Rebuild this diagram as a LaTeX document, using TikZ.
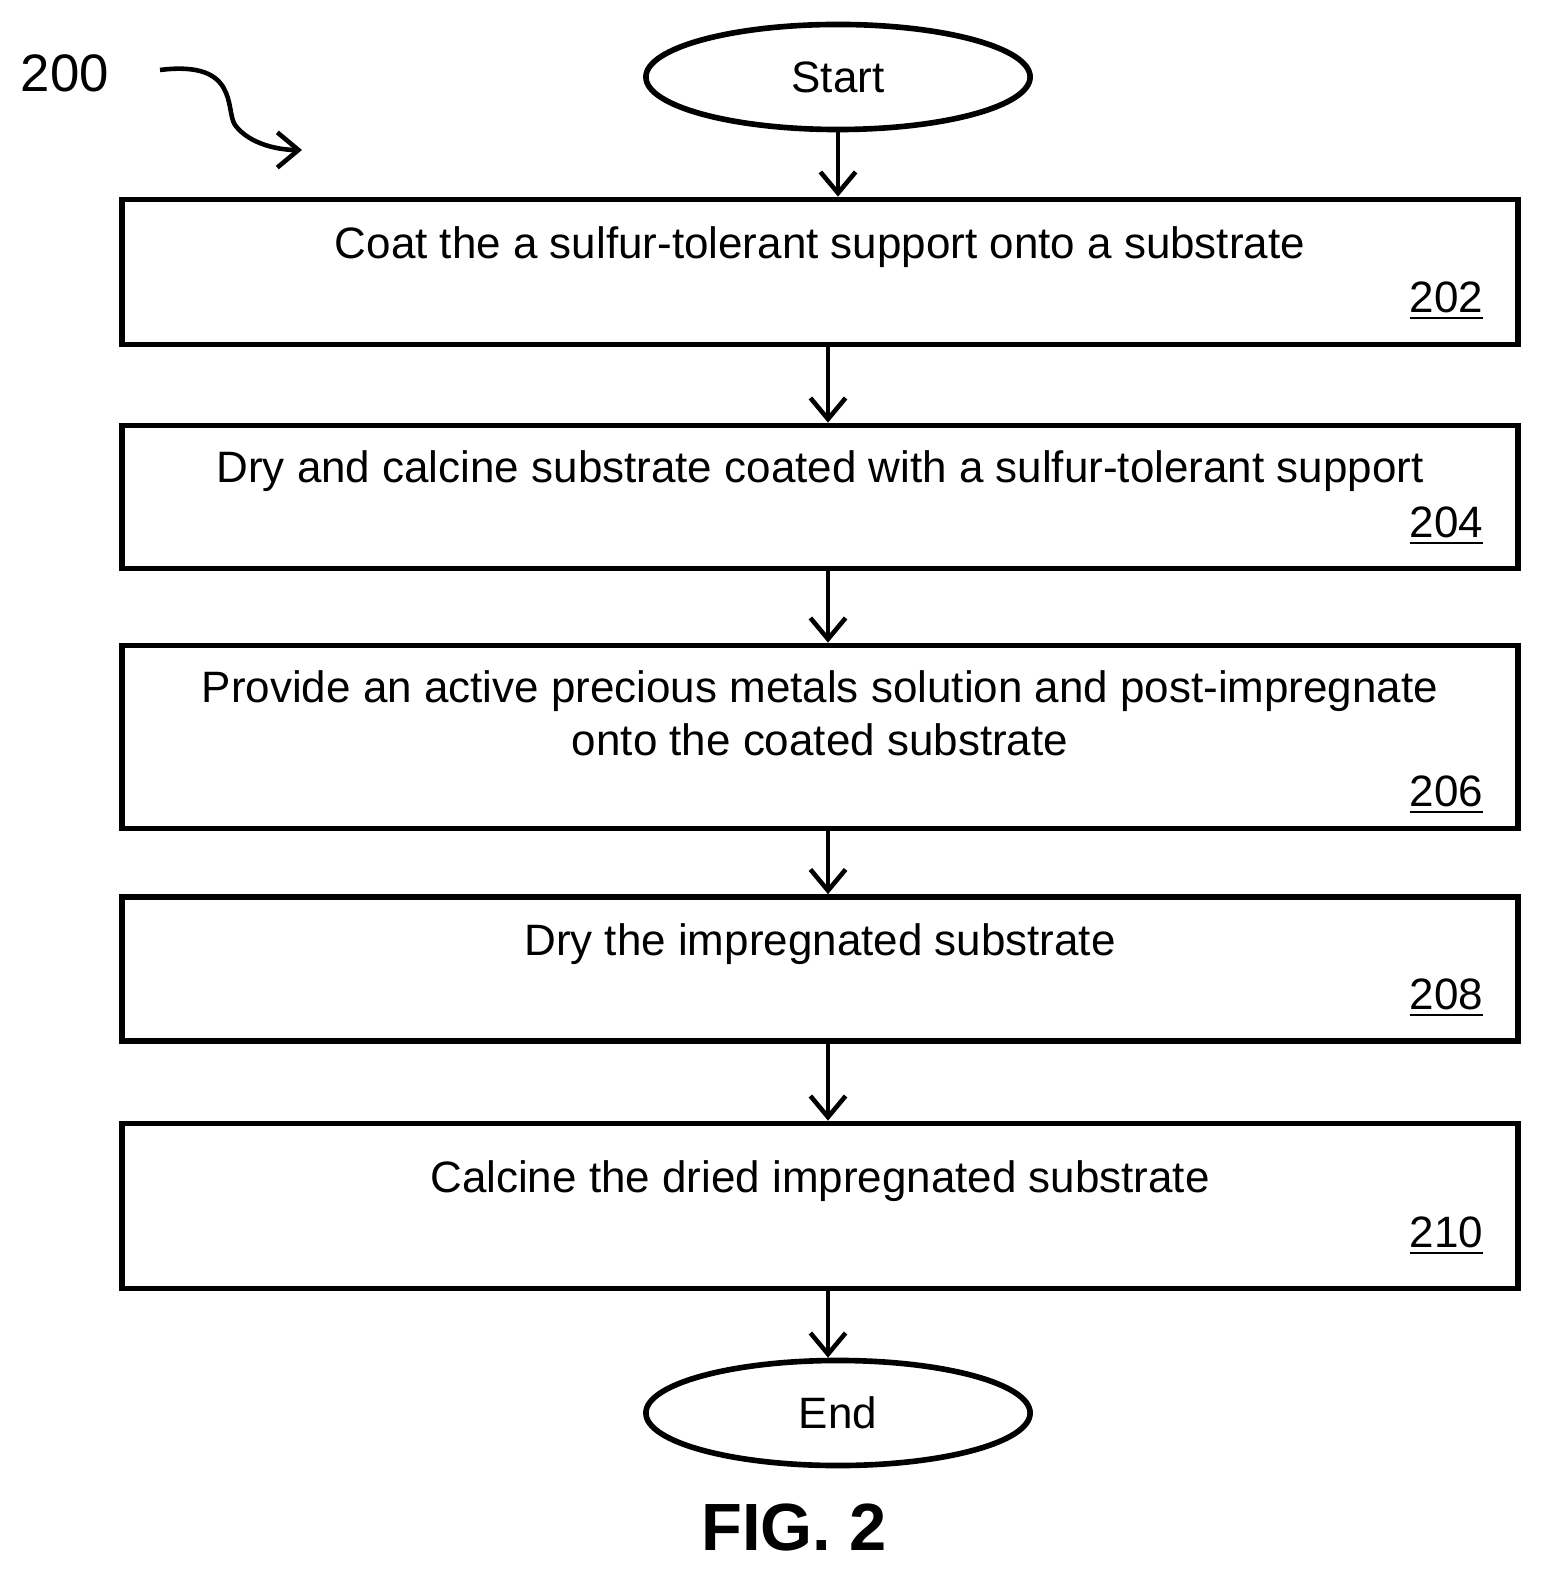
\documentclass[tikz,border=0pt]{standalone}
\usepackage{fontspec}
\setmainfont{Liberation Sans}
\usetikzlibrary{shapes.geometric, arrows.meta}
\tikzset{
    procbox/.style={draw, line width=1.6pt, minimum width=13.95cm, inner sep=0pt,
    	font=\fontsize{12.5}{16}\selectfont, align=center},
    term/.style={ellipse, draw, line width=1.6pt, minimum width=3.84cm,
    	minimum height=1.05cm, font=\fontsize{12.5}{16}\selectfont},
    num/.style={font=\fontsize{12.5}{16}\selectfont, anchor=east}
}
\tikzset{
    every path/.append style={line width=1.3pt}
}
\begin{document}
\begin{tikzpicture}[x=0.01cm, y=-0.01cm, >={Straight Barb[length=6pt,width=10pt]}]
  \useasboundingbox (0,0) rectangle (1546,1574);
  \node (ref) [font=\fontsize{15}{18}\selectfont] at (65,73) {200};
  \coordinate (refa) at (160,70);
  \coordinate (refb) at (302,150);
  \draw[->] (refa) .. controls (240,60) and (225,110) .. (235,125) .. controls (250,145) and (280,150) .. (refb);

  \node (start) [term] at (838,77) {Start};
  \node (b1) [procbox, minimum height=1.45cm] at (820,272) {};
  \node (b2) [procbox, minimum height=1.43cm] at (820,497) {};
  \node (b3) [procbox, minimum height=1.83cm] at (820,737) {};
  \node (b4) [procbox, minimum height=1.44cm] at (820,969) {};
  \node (b5) [procbox, minimum height=1.65cm] at (820,1206) {};
  \node (end) [term] at (838,1413) {End};

  \node (t1) [font=\fontsize{12.5}{16}\selectfont] at (820,247) {Coat the a sulfur-tolerant support onto a substrate};
  \node (t2) [font=\fontsize{12.5}{16}\selectfont] at (820,471) {Dry and calcine substrate coated with a sulfur-tolerant support};
  \node (t3) [font=\fontsize{12.5}{16}\selectfont, align=center] at (820,713) {Provide an active precious metals solution and post-impregnate\\[-1pt]onto the coated substrate};
  \node (t4) [font=\fontsize{12.5}{16}\selectfont] at (820,944) {Dry the impregnated substrate};
  \node (t5) [font=\fontsize{12.5}{16}\selectfont] at (820,1181) {Calcine the dried impregnated substrate};

  \node (n1) [num] at (1497,301) {\underline{202}};
  \node (n2) [num] at (1497,526) {\underline{204}};
  \node (n3) [num] at (1497,795) {\underline{206}};
  \node (n4) [num] at (1497,998) {\underline{208}};
  \node (n5) [num] at (1497,1236) {\underline{210}};

  \draw[->] (start) -- (start|-b1.north);
  \draw[->] (b1.south-|828,0) -- (b2.north-|828,0);
  \draw[->] (b2.south-|828,0) -- (b3.north-|828,0);
  \draw[->] (b3.south-|828,0) -- (b4.north-|828,0);
  \draw[->] (b4.south-|828,0) -- (b5.north-|828,0);
  \draw[->] (b5.south-|828,0) -- (end.north-|828,0);

  \node (fig) [font=\fontsize{19}{22}\selectfont\bfseries] at (794,1527) {FIG. 2};
\end{tikzpicture}
\end{document}
